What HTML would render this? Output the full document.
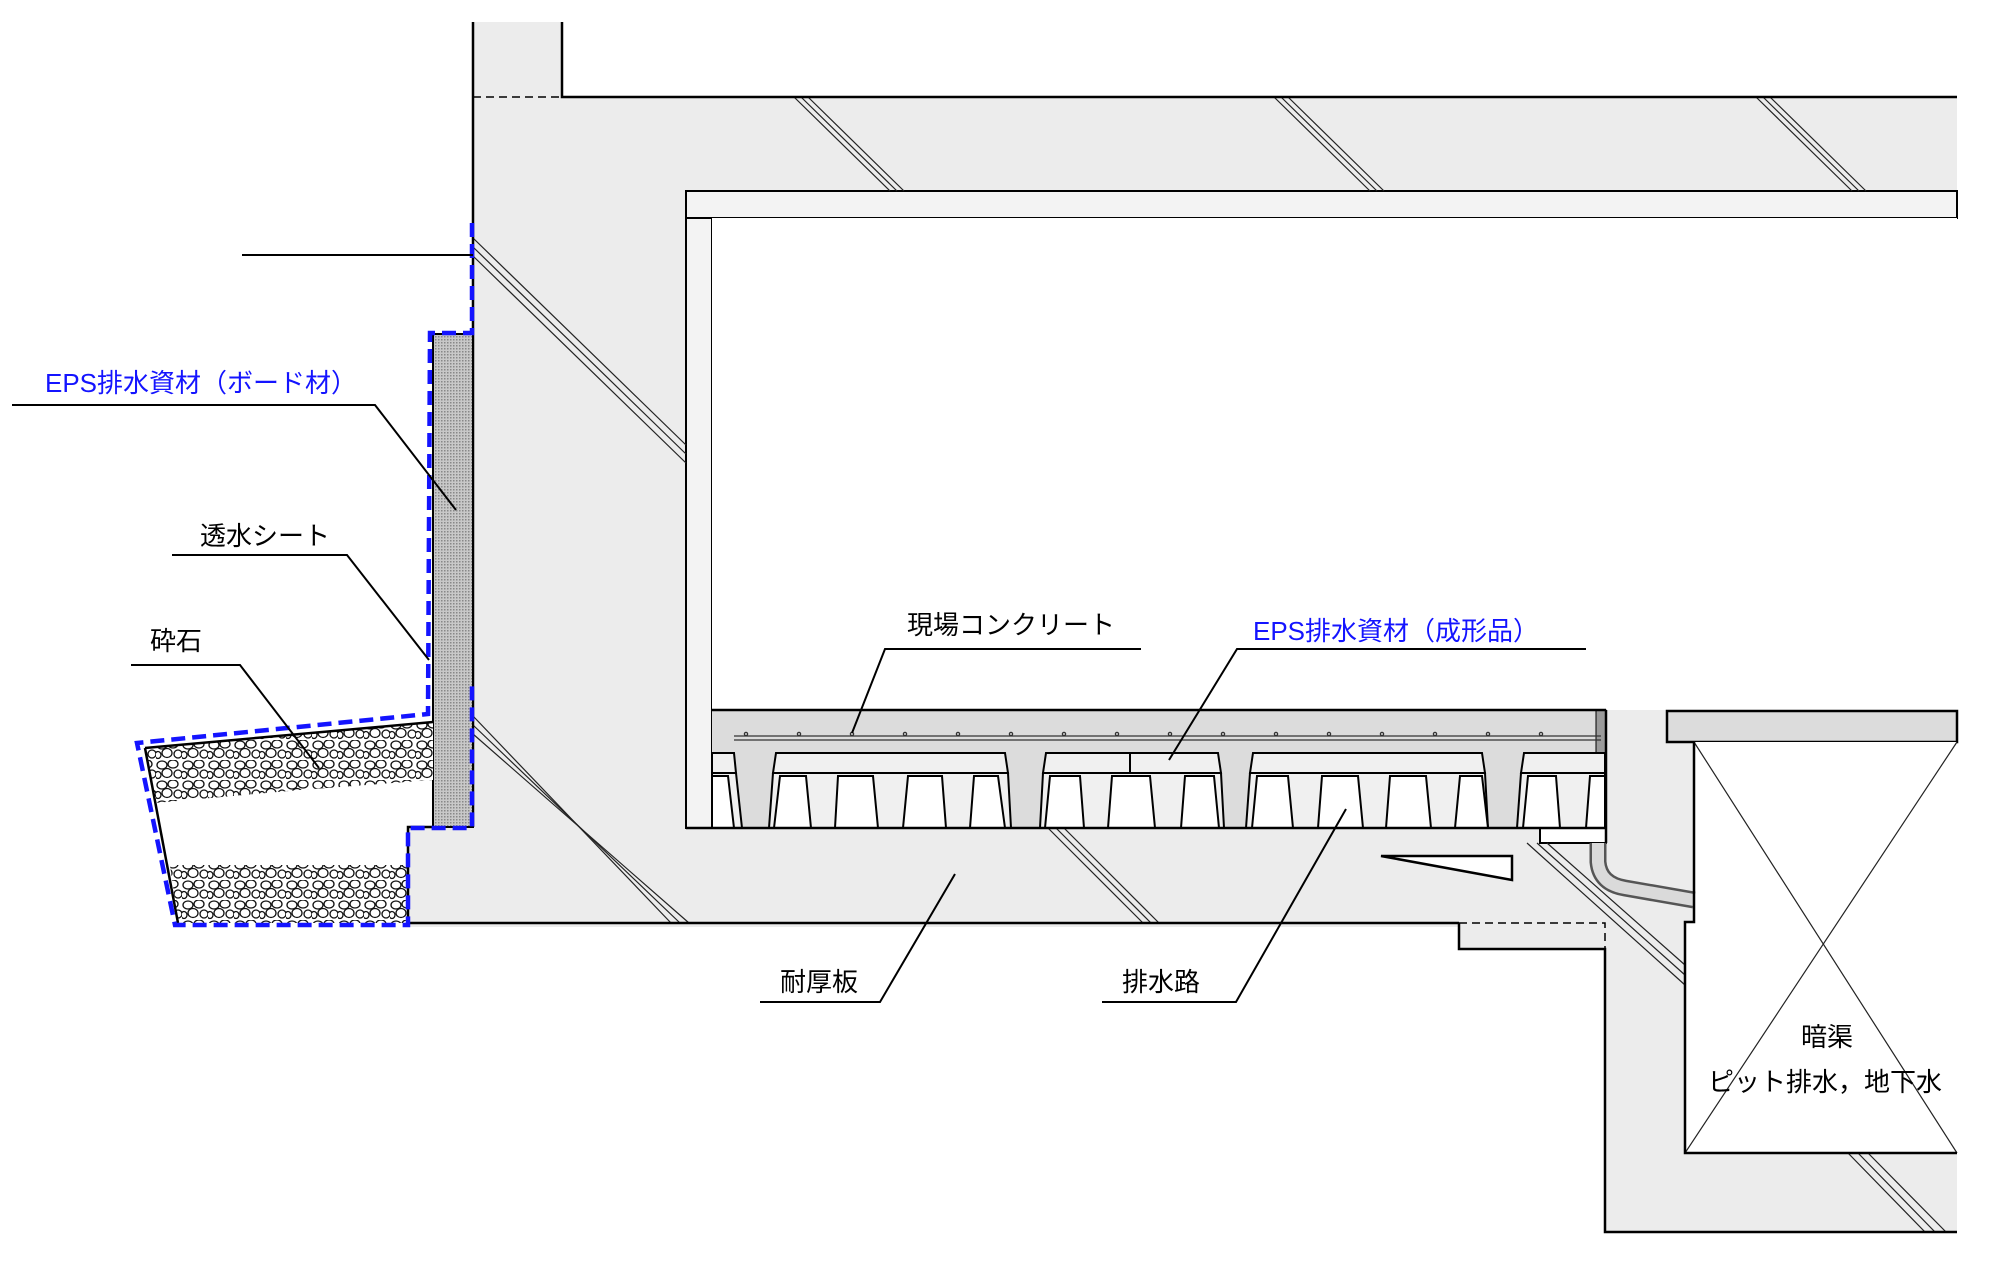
<!DOCTYPE html>
<html><head><meta charset="utf-8"><style>
html,body{margin:0;padding:0;background:#fff;}
svg{display:block;}
text{font-family:"Liberation Sans","Noto Sans CJK JP",sans-serif;font-size:26px;}
</style></head><body>
<svg width="1993" height="1264" viewBox="0 0 1993 1264" xmlns="http://www.w3.org/2000/svg">
<defs>
<pattern id="gr" width="26" height="20" patternUnits="userSpaceOnUse">
<rect width="26" height="20" fill="#fff"/>
<g fill="none" stroke="#111" stroke-width="1.3">
<ellipse cx="6" cy="5" rx="5" ry="4"/><ellipse cx="17" cy="4" rx="5" ry="4"/>
<ellipse cx="11" cy="13" rx="5" ry="4.5"/><ellipse cx="22" cy="14" rx="4" ry="4"/>
<ellipse cx="2" cy="15" rx="3" ry="3.5"/>
</g></pattern>
<pattern id="ck" width="3" height="3" patternUnits="userSpaceOnUse">
<rect width="3" height="3" fill="#c8c8c8"/><rect width="1.5" height="1.5" fill="#888"/></pattern>
</defs>

<g fill="#ececec">
<rect x="473" y="22" width="89" height="80"/>
<rect x="473" y="97" width="1484" height="94"/>
<rect x="473" y="97" width="213" height="830"/>
<rect x="408" y="827" width="1198" height="100"/>
<rect x="1459" y="923" width="147" height="26"/>
<rect x="1605" y="710" width="89" height="522"/>
<rect x="1605" y="1153" width="352" height="79"/>
</g>
<rect x="686" y="191" width="1271" height="27" fill="#f3f3f3" stroke="#000" stroke-width="2"/>
<rect x="686" y="218" width="26" height="610" fill="#f3f3f3" stroke="#000" stroke-width="2"/>
<rect x="712" y="218" width="1245" height="492" fill="#fff"/>
<rect x="712" y="710" width="894" height="118" fill="#dcdcdc"/>
<rect x="1596" y="710" width="10" height="43" fill="#9a9a9a" stroke="#000" stroke-width="1"/>
<rect x="1667" y="711" width="290" height="31" fill="#dcdcdc" stroke="#000" stroke-width="2.5"/>
<rect x="1694" y="742" width="263" height="180" fill="#fff"/>
<rect x="1685" y="922" width="272" height="231" fill="#fff"/>
<g stroke="#222" stroke-width="1.2"><line x1="1694" y1="742" x2="1957" y2="1153"/><line x1="1957" y1="742" x2="1685" y2="1153"/></g>

<g stroke="#000" stroke-width="2">
<polygon points="712,753 734,753 736,773 712,773" fill="#f0f0f0"/>
<polygon points="712,773 736,773 742,828 712,828" fill="#f0f0f0"/>
<polygon points="712,776 728,776 734,828 712,828" fill="#fff"/>
<polygon points="776,753 1005,753 1008,773 773,773" fill="#f0f0f0"/>
<polygon points="773,773 1008,773 1011,828 769,828" fill="#f0f0f0"/>
<polygon points="780,776 806,776 811,828 774,828" fill="#fff"/>
<polygon points="838,776 873,776 878,828 835,828" fill="#fff"/>
<polygon points="908,776 942,776 946,828 903,828" fill="#fff"/>
<polygon points="974,776 998,776 1005,828 970,828" fill="#fff"/>
<polygon points="1046,753 1218,753 1221,773 1043,773" fill="#f0f0f0"/>
<line x1="1130" y1="753" x2="1130" y2="773"/>
<polygon points="1043,773 1221,773 1224,828 1040,828" fill="#f0f0f0"/>
<polygon points="1050,776 1080,776 1084,828 1045,828" fill="#fff"/>
<polygon points="1112,776 1150,776 1155,828 1108,828" fill="#fff"/>
<polygon points="1185,776 1214,776 1219,828 1181,828" fill="#fff"/>
<polygon points="1253,753 1482,753 1485,773 1250,773" fill="#f0f0f0"/>
<polygon points="1250,773 1485,773 1488,828 1246,828" fill="#f0f0f0"/>
<polygon points="1257,776 1288,776 1293,828 1252,828" fill="#fff"/>
<polygon points="1322,776 1358,776 1363,828 1318,828" fill="#fff"/>
<polygon points="1390,776 1426,776 1431,828 1386,828" fill="#fff"/>
<polygon points="1460,776 1482,776 1488,828 1455,828" fill="#fff"/>
<polygon points="1524,753 1605,753 1605,773 1521,773" fill="#f0f0f0"/>
<polygon points="1521,773 1605,773 1605,828 1517,828" fill="#f0f0f0"/>
<polygon points="1528,776 1556,776 1560,828 1523,828" fill="#fff"/>
<polygon points="1590,776 1605,776 1605,828 1586,828" fill="#fff"/>
</g>
<g stroke="#333" stroke-width="1.3" fill="none">
<line x1="734" y1="736" x2="1601" y2="736"/><line x1="734" y1="740" x2="1601" y2="740"/>
<circle cx="746" cy="734" r="1.6"/><circle cx="799" cy="734" r="1.6"/><circle cx="852" cy="734" r="1.6"/><circle cx="905" cy="734" r="1.6"/><circle cx="958" cy="734" r="1.6"/><circle cx="1011" cy="734" r="1.6"/><circle cx="1064" cy="734" r="1.6"/><circle cx="1117" cy="734" r="1.6"/><circle cx="1170" cy="734" r="1.6"/><circle cx="1223" cy="734" r="1.6"/><circle cx="1276" cy="734" r="1.6"/><circle cx="1329" cy="734" r="1.6"/><circle cx="1382" cy="734" r="1.6"/><circle cx="1435" cy="734" r="1.6"/><circle cx="1488" cy="734" r="1.6"/><circle cx="1541" cy="734" r="1.6"/>
</g>
<rect x="1540" y="828" width="66" height="15" fill="#fff" stroke="#000" stroke-width="2"/>
<path d="M1598,843 L1598,862 Q1600,884 1625,888 L1694,900" fill="none" stroke="#555" stroke-width="17"/>
<path d="M1598,843 L1598,862 Q1600,884 1625,888 L1694,900" fill="none" stroke="#dadada" stroke-width="12"/>
<polygon points="1381,856 1512,856 1512,880" fill="#fff" stroke="#000" stroke-width="2.5"/>

<g stroke="#222" stroke-width="1.2">
<line x1="794" y1="97" x2="890" y2="191"/><line x1="801" y1="97" x2="897" y2="191"/><line x1="808" y1="97" x2="904" y2="191"/>
<line x1="1274" y1="97" x2="1370" y2="191"/><line x1="1281" y1="97" x2="1377" y2="191"/><line x1="1288" y1="97" x2="1384" y2="191"/>
<line x1="1756" y1="97" x2="1852" y2="191"/><line x1="1763" y1="97" x2="1859" y2="191"/><line x1="1770" y1="97" x2="1866" y2="191"/>
<line x1="473" y1="238" x2="686" y2="445"/><line x1="473" y1="247" x2="686" y2="454"/><line x1="473" y1="256" x2="686" y2="463"/>
<line x1="473" y1="716" x2="671" y2="923"/><line x1="473" y1="725" x2="680" y2="923"/><line x1="473" y1="734" x2="689" y2="923"/>
<line x1="1048" y1="828" x2="1143" y2="923"/><line x1="1056" y1="828" x2="1151" y2="923"/><line x1="1064" y1="828" x2="1159" y2="923"/>
<line x1="1527" y1="843" x2="1685" y2="985"/><line x1="1537" y1="843" x2="1685" y2="975"/><line x1="1547" y1="843" x2="1685" y2="965"/>
<line x1="1848" y1="1153" x2="1925" y2="1232"/><line x1="1858" y1="1153" x2="1935" y2="1232"/><line x1="1868" y1="1153" x2="1946" y2="1232"/>
</g>

<g stroke="#000" stroke-width="2.5" fill="none">
<polyline points="473,22 473,827"/>
<polyline points="562,22 562,97 1957,97"/>
<polyline points="408,923 1459,923"/>
<polyline points="1459,923 1459,949 1605,949 1605,1232 1957,1232"/>
<polyline points="1694,742 1694,922 1685,922 1685,1153 1957,1153"/>
<line x1="686" y1="828" x2="1606" y2="828"/>
<line x1="712" y1="710" x2="1606" y2="710"/>
<line x1="1606" y1="710" x2="1606" y2="843"/>
</g>
<g stroke="#000" stroke-width="1.5" stroke-dasharray="8,5" fill="none">
<line x1="473" y1="97" x2="562" y2="97"/>
<polyline points="1459,923 1605,923 1605,949"/>
</g>

<rect x="433" y="334" width="40" height="493" fill="url(#ck)" stroke="#000" stroke-width="2"/>
<polygon points="145,748 433,722 433,780 300,790 155,803" fill="url(#gr)"/>
<polygon points="170,865 408,865 408,923 178,923" fill="url(#gr)"/>
<g stroke="#000" stroke-width="2.5" fill="none">
<line x1="145" y1="748" x2="433" y2="722"/>
<line x1="145" y1="748" x2="178" y2="923"/>
<polyline points="408,923 408,827 433,827"/>
</g>
<polyline points="472,223 472,333 430,333 428,714 137,743 175,925 408,925 408,828 472,828 472,682" fill="none" stroke="#1414ff" stroke-width="4.5" stroke-dasharray="14,7"/>

<line x1="242" y1="255" x2="473" y2="255" stroke="#000" stroke-width="2"/>

<g stroke="#000" stroke-width="2" fill="none">
<polyline points="12,405 375,405 456,510"/>
<polyline points="172,555 347,555 429,660"/>
<polyline points="131,665 240,665 319,768"/>
<polyline points="1141,649 885,649 852,733"/>
<polyline points="1586,649 1237,649 1169,760"/>
<polyline points="760,1002 880,1002 955,874"/>
<polyline points="1102,1002 1236,1002 1346,809"/>
</g>

<text x="45" y="392" fill="#1414ff">EPS排水資材（ボード材）</text>
<text x="200" y="545">透水シート</text>
<text x="150" y="650">砕石</text>
<text x="907" y="634">現場コンクリート</text>
<text x="1253" y="640" fill="#1414ff">EPS排水資材（成形品）</text>
<text x="780" y="991">耐厚板</text>
<text x="1122" y="991">排水路</text>
<text x="1827" y="1046" text-anchor="middle">暗渠</text>
<text x="1825" y="1091" text-anchor="middle">ピット排水，地下水</text>
</svg>
</body></html>
